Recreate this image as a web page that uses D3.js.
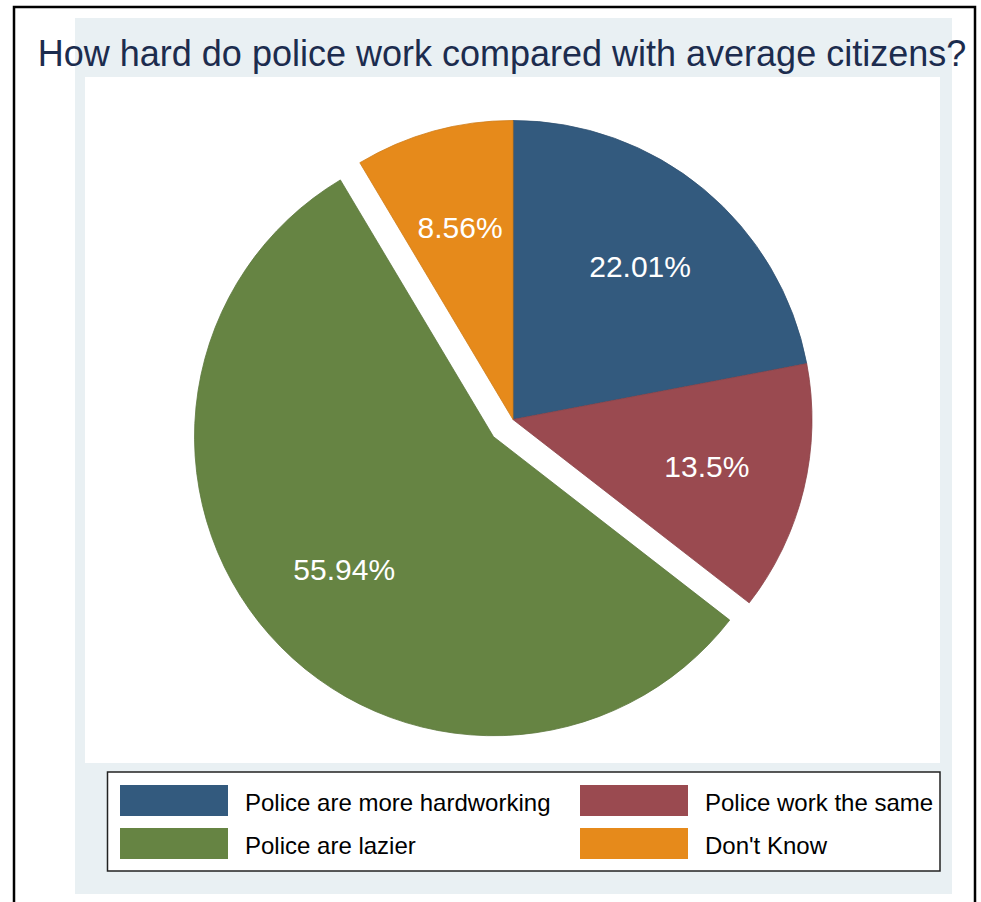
<!DOCTYPE html>
<html>
<head>
<meta charset="utf-8">
<script src="https://cdn.jsdelivr.net/npm/d3@7"></script>
<style>
  html, body { margin: 0; padding: 0; background: #ffffff; }
  svg { display: block; font-family: "Liberation Sans", Arial, sans-serif; }
</style>
</head>
<body>
<div id="chart"></div>
<script>
// data
const categories = ["Police are more hardworking", "Police work the same", "Police are lazier", "Don't Know"];
const shares = [22.01, 13.5, 55.94, 8.56];
const exploded = [false, false, true, false];
const sliceColors = ["#335a7e", "#9a4a50", "#668443", "#e68a1b"];
const legendOrder = [0, 1, 2, 3];

const width = 981, height = 902;

const svg = d3.select("#chart")
    .append("svg")
    .attr("width", width)
    .attr("height", height);

// outer frame
svg.append("rect")
    .attr("x", 14).attr("y", 7)
    .attr("width", 961).attr("height", 910)
    .attr("fill", "#ffffff")
    .attr("stroke", "#000000")
    .attr("stroke-width", 2.5);

// graph region background
svg.append("rect")
    .attr("x", 75).attr("y", 18)
    .attr("width", 877).attr("height", 876)
    .attr("fill", "#e9f0f3");

// plot region
svg.append("rect")
    .attr("x", 85).attr("y", 77)
    .attr("width", 855).attr("height", 686)
    .attr("fill", "#ffffff");

svg.append("text")
    .attr("x", 502).attr("y", 66)
    .attr("text-anchor", "middle")
    .attr("font-size", 36)
    .attr("fill", "#1c2c4e")
    .text("How hard do police work compared with average citizens?");

// pie
const cx = 513, cy = 419.5, radius = 299, explodeBy = 26;

const pie = d3.pie().sort(null).value(d => d)(shares);
const arc = d3.arc().innerRadius(0).outerRadius(radius);
const labelArc = d3.arc().innerRadius(radius * 2 / 3).outerRadius(radius * 2 / 3);

const pieG = svg.append("g").attr("transform", `translate(${cx},${cy})`);

const slice = pieG.selectAll("g.slice")
    .data(pie)
    .enter()
    .append("g")
    .attr("class", "slice")
    .attr("transform", (d, i) => {
        if (!exploded[i]) return null;
        const mid = (d.startAngle + d.endAngle) / 2;
        return `translate(${Math.sin(mid) * explodeBy},${-Math.cos(mid) * explodeBy})`;
    });

slice.append("path")
    .attr("d", arc)
    .attr("fill", (d, i) => sliceColors[i])
    .attr("stroke", (d, i) => d3.color(sliceColors[i]).darker(0.3))
    .attr("stroke-width", 0.8);

slice.append("text")
    .attr("transform", d => `translate(${labelArc.centroid(d)})`)
    .attr("dy", "0.36em")
    .attr("text-anchor", "middle")
    .attr("font-size", 30)
    .attr("fill", "#ffffff")
    .text(d => d.data + "%");

// legend
svg.append("rect")
    .attr("x", 107.5).attr("y", 772)
    .attr("width", 832.5).attr("height", 99)
    .attr("fill", "#ffffff")
    .attr("stroke", "#222222")
    .attr("stroke-width", 1.5);

const legend = svg.append("g")
    .selectAll("g")
    .data(legendOrder)
    .enter()
    .append("g")
    .attr("transform", (k, i) => `translate(${i % 2 === 0 ? 120 : 580},${785 + Math.floor(i / 2) * 43})`);

legend.append("rect")
    .attr("width", 108).attr("height", 31)
    .attr("fill", k => sliceColors[k]);

legend.append("text")
    .attr("x", 125).attr("y", 26)
    .attr("font-size", 24)
    .attr("fill", "#000000")
    .text(k => categories[k]);
</script>
</body>
</html>
